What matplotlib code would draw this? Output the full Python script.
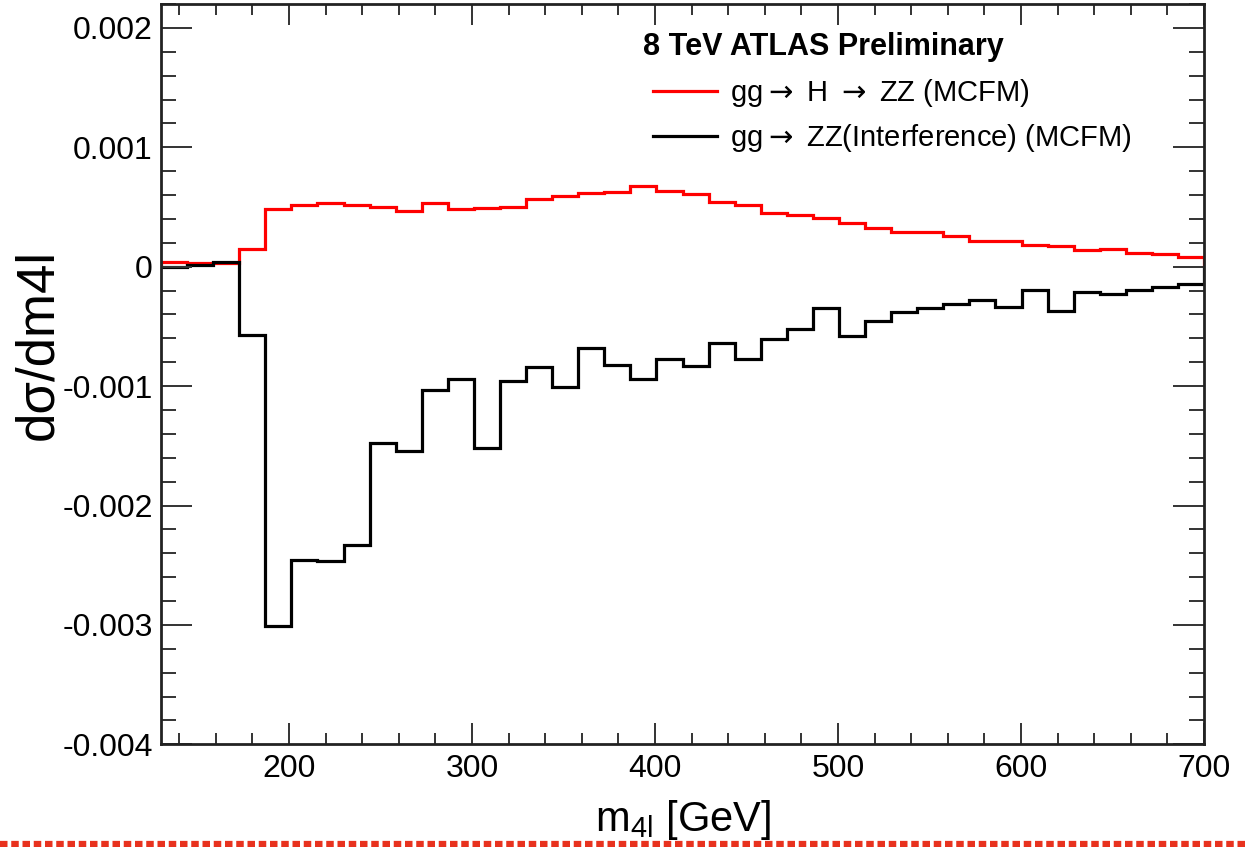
import numpy as np
import matplotlib
matplotlib.use('Agg')
import matplotlib.pyplot as plt
from matplotlib.lines import Line2D
from matplotlib.ticker import MultipleLocator

plt.rcParams['font.family'] = ['Liberation Sans', 'DejaVu Sans']

# 40 bins of m4l from 130 to 700 GeV
bin_edges = np.linspace(130, 700, 41)

# gg -> H -> ZZ (MCFM), units of 1e-3
higgs = [0.042, 0.028, 0.033, 0.148, 0.482, 0.518, 0.530, 0.518, 0.501, 0.468,
         0.530, 0.482, 0.488, 0.496, 0.563, 0.593, 0.618, 0.627, 0.674, 0.635,
         0.607, 0.543, 0.513, 0.451, 0.432, 0.404, 0.363, 0.326, 0.292, 0.290,
         0.259, 0.217, 0.212, 0.181, 0.175, 0.140, 0.148, 0.117, 0.106, 0.081]

# gg -> ZZ interference (MCFM), units of 1e-3
interf = [-0.005, 0.014, 0.037, -0.571, -3.007, -2.459, -2.467, -2.333, -1.476, -1.540,
          -1.030, -0.938, -1.520, -0.961, -0.841, -1.011, -0.682, -0.821, -0.938, -0.774,
          -0.830, -0.640, -0.771, -0.607, -0.523, -0.348, -0.579, -0.451, -0.376, -0.342,
          -0.314, -0.278, -0.334, -0.195, -0.368, -0.209, -0.231, -0.195, -0.172, -0.145]

xticks = [200, 300, 400, 500, 600, 700]
yticks = [-0.004, -0.003, -0.002, -0.001, 0, 0.001, 0.002]
ytick_labels = ['-0.004', '-0.003', '-0.002', '-0.001', '0', '0.001', '0.002']

fig = plt.figure(figsize=(12.45, 8.47), dpi=100)
ax = fig.add_axes([0.1293, 0.1212, 0.8378, 0.8741])

ax.stairs(np.array(higgs) * 1e-3, bin_edges, color='#ff0000', lw=2.3)
ax.stairs(np.array(interf) * 1e-3, bin_edges, color='black', lw=2.3)

ax.set_xlim(130, 700)
ax.set_ylim(-0.004, 0.0022)
ax.set_xticks(xticks, [str(t) for t in xticks])
ax.set_yticks(yticks, ytick_labels)
ax.xaxis.set_minor_locator(MultipleLocator(20))
ax.yaxis.set_minor_locator(MultipleLocator(0.0002))

for s in ax.spines.values():
    s.set_linewidth(2.0)
    s.set_color('#222222')
ax.tick_params(which='both', direction='in', top=True, right=True, colors='#333333',
               labelcolor='black', width=1.4)
ax.tick_params(axis='x', which='major', length=15, labelsize=23, pad=7)
ax.tick_params(axis='x', which='minor', length=8)
ax.tick_params(axis='y', which='major', length=22, labelsize=23, pad=6)
ax.tick_params(axis='y', which='minor', length=11)

ax.set_xlabel(r'm$_{\mathregular{4l}}$ [GeV]', fontsize=30)
ax.xaxis.set_label_coords(0.5, -0.073)
ax.set_ylabel('dσ/dm4l', fontsize=38)
ax.yaxis.set_label_coords(-0.094, 0.54)

ax.text(0.462, 0.942, '8 TeV ATLAS Preliminary', transform=ax.transAxes,
        fontsize=22, fontweight='bold', va='center', ha='left')

handles = [Line2D([], [], color='#ff0000', lw=2.3),
           Line2D([], [], color='black', lw=2.3)]
labels = [r'gg$\rightarrow$ H $\rightarrow$ ZZ (MCFM)',
          r'gg$\rightarrow$ ZZ(Interference) (MCFM)']
ax.legend(handles, labels, loc='upper left', bbox_to_anchor=(0.4717, 0.901),
          frameon=False, fontsize=21, handlelength=2.2, handletextpad=0.45,
          labelspacing=0.45, borderpad=0, borderaxespad=0)

# red noise strip along the bottom edge of the scan
fig.add_artist(Line2D([0, 1], [0.0035, 0.0035], transform=fig.transFigure,
                      color='#e8321e', lw=4.5, dashes=(1.2, 0.6)))

fig.savefig('out.png', dpi=100)
